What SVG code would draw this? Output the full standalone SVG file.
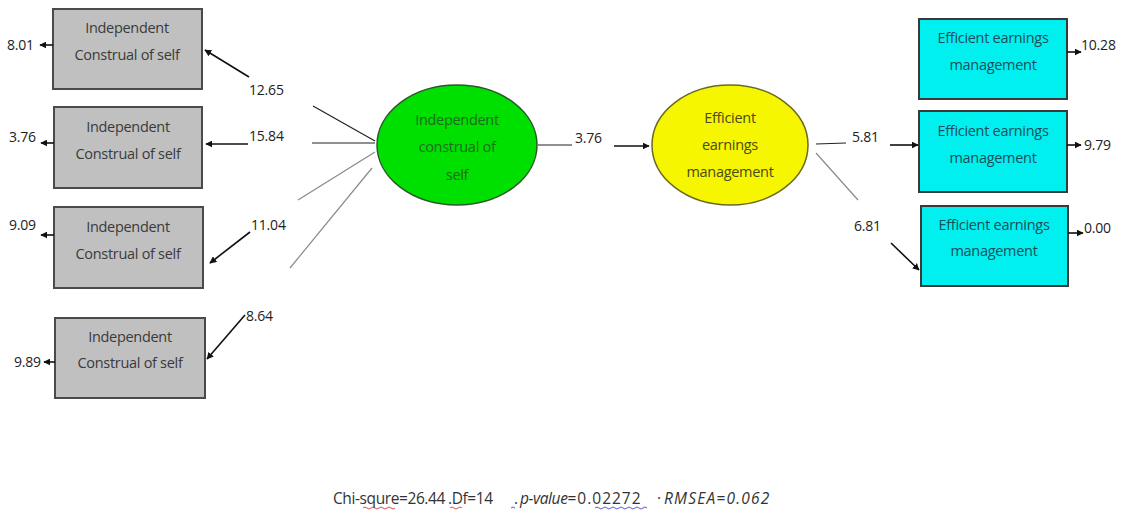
<svg xmlns="http://www.w3.org/2000/svg" width="1122" height="514" viewBox="0 0 1122 514">
<style>
.box{fill:#c0c0c0;stroke:#4a4a4a;stroke-width:2}
.cbox{fill:#00f0f0;stroke:#3a3a3a;stroke-width:2}
.t{font-family:"Open Sans","Liberation Sans",sans-serif;font-size:14.5px;fill:#3a3a3a;text-anchor:middle;letter-spacing:-0.3px}
.ct{font-family:"Open Sans","Liberation Sans",sans-serif;font-size:14.5px;fill:#1c4d5a;text-anchor:middle;letter-spacing:-0.3px}
.gt{font-family:"Open Sans","Liberation Sans",sans-serif;font-size:14.5px;fill:#1d6b1d;text-anchor:middle;letter-spacing:-0.3px}
.yt{font-family:"Open Sans","Liberation Sans",sans-serif;font-size:14.5px;fill:#4a4a1a;text-anchor:middle;letter-spacing:-0.3px}
.n{font-family:"Open Sans","Liberation Sans",sans-serif;font-size:14px;fill:#222;letter-spacing:-0.2px}
.a{stroke:#111;stroke-width:1.6;fill:none;marker-end:url(#ah)}
.l{stroke:#222;stroke-width:1.2;fill:none}
.g{stroke:#8a8a8a;stroke-width:1.2;fill:none}
.f{font-family:"Open Sans","Liberation Sans",sans-serif;font-size:15.5px;fill:#333;letter-spacing:-0.4px}
.wr{stroke:#d02020;stroke-width:0.8;fill:none}
.wb{stroke:#3030c0;stroke-width:0.8;fill:none}
</style>
<defs>
<marker id="ah" viewBox="0 0 10 10" refX="9" refY="5" markerWidth="7" markerHeight="7" orient="auto" markerUnits="userSpaceOnUse">
<path d="M0,0 L10,5 L0,10 z" fill="#111"/>
</marker>
</defs>

<g id="x1"><rect class="box" x="53" y="9" width="149" height="80"/><text class="t" x="127" y="33">Independent</text><text class="t" x="127" y="60">Construal of self</text></g>
<g id="x2"><rect class="box" x="54" y="107" width="148" height="81"/><text class="t" x="128" y="132">Independent</text><text class="t" x="128" y="159">Construal of self</text></g>
<g id="x3"><rect class="box" x="54" y="207" width="149" height="81"/><text class="t" x="128" y="232">Independent</text><text class="t" x="128" y="259">Construal of self</text></g>
<g id="x4"><rect class="box" x="55" y="318" width="150" height="80"/><text class="t" x="130" y="342">Independent</text><text class="t" x="130" y="368">Construal of self</text></g>

<g id="ics"><ellipse cx="457" cy="145" rx="80" ry="60" fill="#00e000" stroke="#2a5a2a" stroke-width="1.5"/><text class="gt" x="457" y="125">Independent</text><text class="gt" x="457" y="152">construal of</text><text class="gt" x="457" y="180">self</text></g>
<g id="eem"><ellipse cx="730" cy="145" rx="78" ry="60" fill="#f6f600" stroke="#6a6a20" stroke-width="1.5"/><text class="yt" x="730" y="123">Efficient</text><text class="yt" x="730" y="150">earnings</text><text class="yt" x="730" y="177">management</text></g>

<g id="y1"><rect class="cbox" x="919" y="19" width="148" height="80"/><text class="ct" x="993" y="43">Efficient earnings</text><text class="ct" x="993" y="70">management</text></g>
<g id="y2"><rect class="cbox" x="919" y="111" width="148" height="81"/><text class="ct" x="993" y="136">Efficient earnings</text><text class="ct" x="993" y="163">management</text></g>
<g id="y3"><rect class="cbox" x="921" y="206" width="147" height="80"/><text class="ct" x="994" y="230">Efficient earnings</text><text class="ct" x="994" y="256">management</text></g>

<g id="connectors">
<line class="a" x1="53" y1="45" x2="40" y2="45"/>
<line class="a" x1="54" y1="143" x2="41" y2="143"/>
<line class="a" x1="54" y1="235" x2="41" y2="235"/>
<line class="a" x1="55" y1="362" x2="44" y2="362"/>

<line class="l" x1="375" y1="141" x2="313" y2="106"/>
<line class="a" x1="249" y1="77" x2="205" y2="50"/>
<line class="l" x1="375" y1="143" x2="312" y2="143"/>
<line class="a" x1="248" y1="144" x2="206" y2="144"/>
<line class="g" x1="375" y1="152" x2="298" y2="200"/>
<line class="a" x1="250" y1="232" x2="210" y2="263"/>
<line class="g" x1="372" y1="168" x2="290" y2="268"/>
<line class="a" x1="245" y1="315" x2="207" y2="359"/>

<line class="l" x1="538" y1="145" x2="572" y2="145"/>
<line class="a" x1="614" y1="146" x2="649" y2="146"/>

<line class="l" x1="816" y1="144" x2="846" y2="143"/>
<line class="a" x1="890" y1="145" x2="918" y2="145"/>
<line class="g" x1="816" y1="153" x2="858" y2="200"/>
<line class="a" x1="891" y1="243" x2="919" y2="270"/>

<line class="a" x1="1067" y1="52" x2="1081" y2="52"/>
<line class="a" x1="1067" y1="145" x2="1081" y2="145"/>
<line class="a" x1="1068" y1="233" x2="1083" y2="233"/>
</g>

<g id="labels">
<text class="n" x="7" y="50">8.01</text>
<text class="n" x="9" y="142">3.76</text>
<text class="n" x="9" y="230">9.09</text>
<text class="n" x="14" y="367">9.89</text>
<text class="n" x="249" y="95">12.65</text>
<text class="n" x="249" y="141">15.84</text>
<text class="n" x="251" y="230">11.04</text>
<text class="n" x="246" y="321">8.64</text>
<text class="n" x="575" y="143">3.76</text>
<text class="n" x="852" y="142">5.81</text>
<text class="n" x="854" y="231">6.81</text>
<text class="n" x="1081" y="50">10.28</text>
<text class="n" x="1084" y="150">9.79</text>
<text class="n" x="1084" y="233">0.00</text>
</g>

<g id="fit">
<text class="f" y="504"><tspan x="333">Chi-squre=26.44</tspan><tspan x="448">.Df=14</tspan><tspan x="514">.</tspan><tspan x="520" font-style="italic">p-value</tspan><tspan letter-spacing="1">=0.02272</tspan><tspan x="657">·</tspan><tspan x="664" font-style="italic" letter-spacing="1.2">RMSEA=0.062</tspan></text>
<path class="wr" d="M363,508 q2,-2 4,0 t4,0 t4,0 t4,0 t4,0 t4,0 t4,0 t4,0"/>
<path class="wr" d="M450,508 q2,-2 4,0 t4,0 t4,0"/>
<path class="wb" d="M511,508 q2,-2 4,0"/>
<path class="wb" d="M595,508 q2,-2 4,0 t4,0 t4,0 t4,0 t4,0 t4,0 t4,0 t4,0 t4,0 t4,0 t4,0 t4,0 t4,0"/>
</g>
</svg>
